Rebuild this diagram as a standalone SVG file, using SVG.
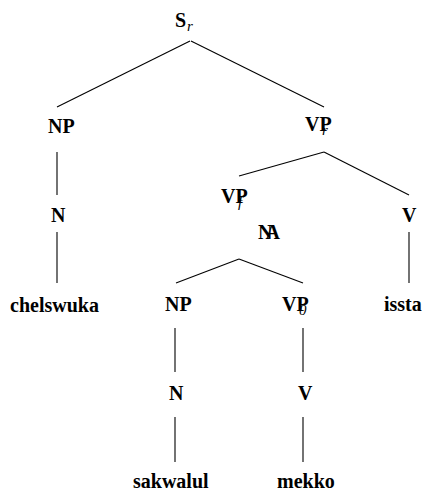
<svg xmlns="http://www.w3.org/2000/svg" width="422" height="494" viewBox="0 0 422 494">
<style>
text{font-family:'Liberation Serif','DejaVu Serif',serif;font-weight:bold;font-size:20px;fill:#000}
.sub{font-style:italic;font-weight:normal;font-size:15px}
#edges line{stroke:#000;stroke-width:1.1}
</style>
<rect width="422" height="494" fill="#fff"/>
<g id="edges">
<line x1="190" y1="41" x2="57" y2="107"/>
<line x1="191" y1="41" x2="324" y2="107"/>
<line x1="57" y1="152" x2="57" y2="195"/>
<line x1="57" y1="232" x2="57" y2="283"/>
<line x1="324" y1="152" x2="239" y2="176"/>
<line x1="324" y1="152" x2="409" y2="195"/>
<line x1="409" y1="232" x2="409" y2="283"/>
<line x1="239" y1="259" x2="176" y2="283"/>
<line x1="239" y1="259" x2="303" y2="283"/>
<line x1="175" y1="328" x2="175" y2="372"/>
<line x1="303" y1="328" x2="303" y2="372"/>
<line x1="175" y1="417" x2="175" y2="462"/>
<line x1="303" y1="417" x2="303" y2="462"/>
</g>
<g id="S"><text x="175" y="27">S</text><text class="sub" x="187" y="31">r</text></g>
<g id="NP1"><text x="48" y="133">NP</text></g>
<g id="VPr"><text x="305" y="131">VP</text><text class="sub" x="322" y="135">r</text></g>
<g id="N1"><text x="51" y="222">N</text></g>
<g id="VPf"><text x="221" y="203">VP</text><text class="sub" x="238" y="207">f</text></g>
<g id="V1"><text x="402" y="222">V</text></g>
<g id="NA"><text x="258" y="239">N</text><text x="265.5" y="239">A</text></g>
<g id="chelswuka"><text x="10" y="312">chelswuka</text></g>
<g id="NP2"><text x="165" y="311">NP</text></g>
<g id="VP0"><text x="282" y="311">VP</text><text class="sub" x="299" y="315">0</text></g>
<g id="issta"><text x="384" y="311">issta</text></g>
<g id="N2"><text x="169" y="400">N</text></g>
<g id="V2"><text x="298" y="400">V</text></g>
<g id="sakwalul"><text x="133" y="488">sakwalul</text></g>
<g id="mekko"><text x="277" y="488">mekko</text></g>
</svg>
